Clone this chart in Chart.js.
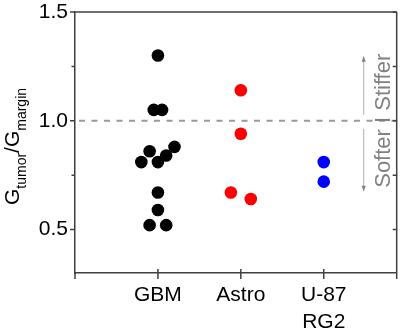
<!DOCTYPE html>
<html><head><meta charset="utf-8">
<script src="https://cdn.jsdelivr.net/npm/chart.js@4.4.0/dist/chart.umd.min.js"></script>
<style>html,body{margin:0;padding:0;background:#fff;overflow:hidden}#c{display:block}</style>
</head><body>
<canvas id="c" width="403" height="331"></canvas>
<script>
// ---- data ----
const categories = ['GBM', 'Astro', ['U-87', 'RG2']];
const gbmValues   = [1.30, 1.05, 1.05, 0.88, 0.86, 0.84, 0.81, 0.81, 0.67, 0.59, 0.52, 0.52];
const gbmJitter   = [0, -0.05, 0.05, 0.2, -0.1, 0.1, -0.2, 0, 0, 0, -0.1, 0.1];
const astroValues = [1.14, 0.94, 0.67, 0.64];
const astroJitter = [0, 0, -0.12, 0.12];
const u87Values   = [0.81, 0.72];
const u87Jitter   = [0, 0];
const yTickValues = [0.5, 1.0, 1.5];
const yMinorTicks = [0.75, 1.25];
const refValue = 1.0;
const yTitleParts = [['G', false], ['tumor', true], ['/', false], ['G', false], ['margin', true]];
const sideLabel = 'Softer I Stiffer';

const FONT = '"Liberation Sans", Arial, Helvetica, sans-serif';
Chart.defaults.font.family = FONT;

function pts(catIndex, values, jitter) {
  return values.map((v, i) => ({ x: catIndex + 1 + jitter[i], y: v }));
}

const overlay = {
  id: 'overlay',
  beforeDatasetsDraw(chart) {
    const { ctx, chartArea: a, scales: { y } } = chart;
    const yy = y.getPixelForValue(refValue);
    ctx.save();
    ctx.strokeStyle = '#9a9a9a';
    ctx.lineWidth = 2;
    ctx.setLineDash([6, 6.5]);
    ctx.beginPath();
    ctx.moveTo(a.left + 4, yy);
    ctx.lineTo(a.right, yy);
    ctx.stroke();
    ctx.restore();
  },
  afterDraw(chart) {
    const { ctx, chartArea: a, scales: { x, y } } = chart;
    ctx.save();
    ctx.strokeStyle = '#404040';
    ctx.lineWidth = 1.5;
    // frame top/right
    ctx.beginPath();
    ctx.moveTo(a.left, a.top); ctx.lineTo(a.right, a.top);
    ctx.moveTo(a.right, a.top); ctx.lineTo(a.right, a.bottom + 6);
    ctx.moveTo(a.left, a.bottom); ctx.lineTo(a.left, a.bottom + 6);
    ctx.stroke();
    // y ticks
    ctx.beginPath();
    yTickValues.forEach(v => {
      const p = y.getPixelForValue(v);
      ctx.moveTo(a.left - 5, p); ctx.lineTo(a.left, p);
      ctx.moveTo(a.right - 4, p); ctx.lineTo(a.right, p);
    });
    yMinorTicks.forEach(v => {
      const p = y.getPixelForValue(v);
      ctx.moveTo(a.left - 3.5, p); ctx.lineTo(a.left, p);
      ctx.moveTo(a.right - 4, p); ctx.lineTo(a.right, p);
    });
    // x ticks
    categories.forEach((c, i) => {
      const p = x.getPixelForValue(i + 1);
      ctx.moveTo(p, a.bottom - 4); ctx.lineTo(p, a.bottom + 6);
    });
    ctx.stroke();

    // y title with subscripts
    const big = 21, small = 14;
    let total = 0;
    yTitleParts.forEach(([t, sub]) => {
      ctx.font = (sub ? small : big) + 'px ' + FONT;
      total += ctx.measureText(t).width;
    });
    const cy = (a.top + a.bottom) / 2 + 4;
    ctx.translate(19, cy);
    ctx.rotate(-Math.PI / 2);
    ctx.fillStyle = '#000';
    ctx.textBaseline = 'alphabetic';
    ctx.textAlign = 'left';
    let xx = -total / 2;
    yTitleParts.forEach(([t, sub]) => {
      ctx.font = (sub ? small : big) + 'px ' + FONT;
      ctx.fillText(t, xx, sub ? 7 : 0);
      xx += ctx.measureText(t).width;
    });
    ctx.restore();

    // side annotation
    const yc = y.getPixelForValue(refValue);
    const ax = a.right - 33;
    ctx.save();
    ctx.strokeStyle = '#b0b0b0';
    ctx.lineWidth = 1;
    ctx.beginPath();
    ctx.moveTo(ax, yc - 6); ctx.lineTo(ax, yc - 62);
    ctx.moveTo(ax, yc + 8); ctx.lineTo(ax, yc + 68);
    ctx.stroke();
    ctx.fillStyle = '#808080';
    ctx.beginPath();
    ctx.moveTo(ax, yc - 65); ctx.lineTo(ax - 2, yc - 59); ctx.lineTo(ax + 2, yc - 59); ctx.closePath();
    ctx.moveTo(ax, yc + 71); ctx.lineTo(ax - 2, yc + 65); ctx.lineTo(ax + 2, yc + 65); ctx.closePath();
    ctx.fill();
    ctx.translate(a.right - 7, yc);
    ctx.rotate(-Math.PI / 2);
    ctx.font = '22px ' + FONT;
    ctx.textAlign = 'center';
    ctx.textBaseline = 'alphabetic';
    ctx.fillStyle = '#808080';
    ctx.fillText(sideLabel, 0, 0);
    ctx.restore();
  }
};

new Chart(document.getElementById('c'), {
  type: 'scatter',
  data: {
    datasets: [
      { data: pts(0, gbmValues, gbmJitter), backgroundColor: '#000000' },
      { data: pts(1, astroValues, astroJitter), backgroundColor: '#ff0000' },
      { data: pts(2, u87Values, u87Jitter), backgroundColor: '#0000ff' }
    ]
  },
  options: {
    responsive: false,
    animation: false,
    devicePixelRatio: 1,
    events: [],
    layout: { padding: { top: 12, right: 4, left: 0, bottom: 0 } },
    elements: { point: { radius: 6.3, borderWidth: 0, hoverRadius: 6.3 } },
    plugins: { legend: { display: false }, tooltip: { enabled: false } },
    scales: {
      x: {
        type: 'linear', min: 0, max: 3.88,
        afterBuildTicks: s => { s.ticks = categories.map((c, i) => ({ value: i + 1 })); },
        afterFit: s => { s.height = 58; s.paddingLeft = 0; s.paddingRight = 0; },
        grid: { display: false, drawTicks: false },
        border: { display: true, color: '#404040', width: 1.5 },
        ticks: {
          autoSkip: false, maxRotation: 0, minRotation: 0, padding: 9, color: '#000',
          font: { size: 21, lineHeight: 1.28 },
          callback: v => categories[Math.round(v) - 1]
        }
      },
      y: {
        min: 0.3, max: 1.5,
        afterBuildTicks: s => { s.ticks = yTickValues.map(v => ({ value: v })); },
        afterFit: s => { s.width = 75; s.paddingTop = 0; s.paddingBottom = 0; },
        grid: { display: false, drawTicks: false },
        border: { display: true, color: '#404040', width: 1.5 },
        ticks: {
          padding: 7, color: '#000', font: { size: 21 },
          callback: v => v.toFixed(1)
        }
      }
    }
  },
  plugins: [overlay]
});
</script>
</body></html>
